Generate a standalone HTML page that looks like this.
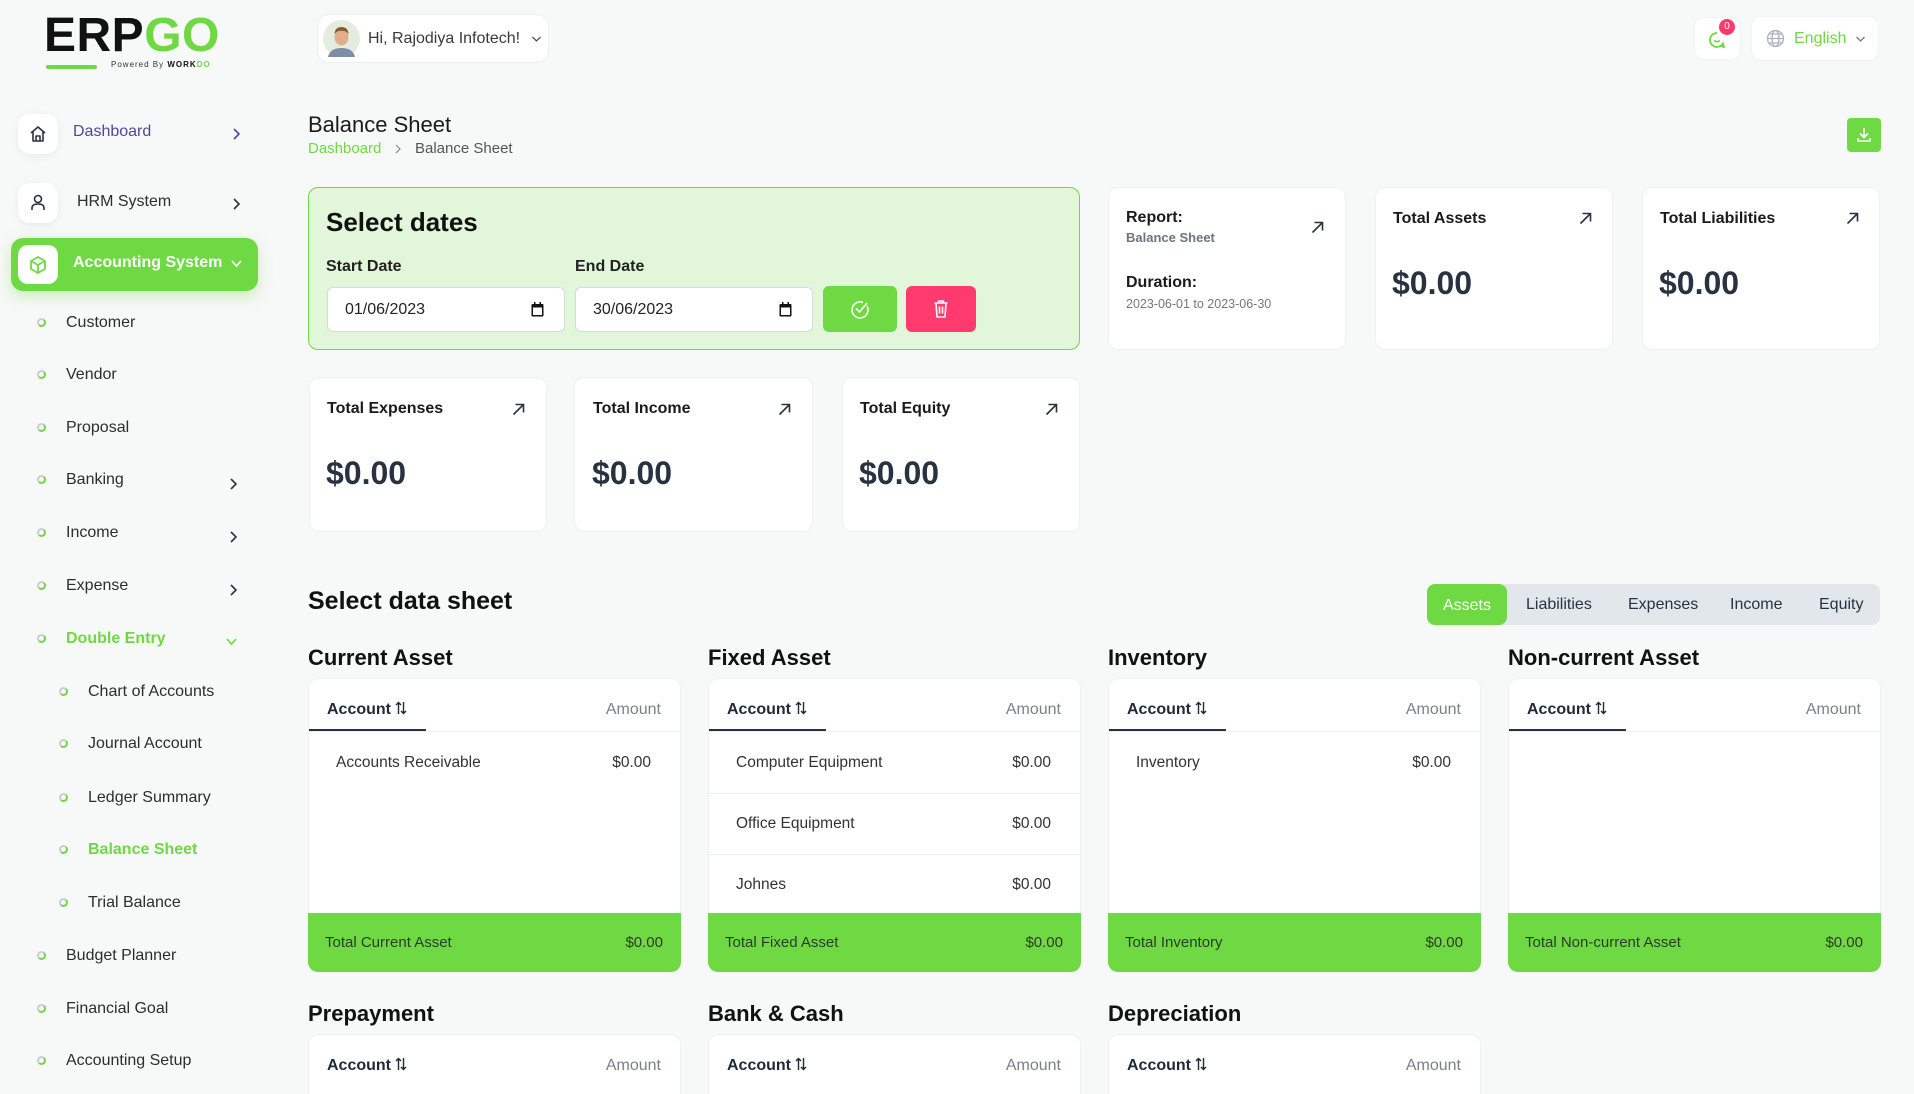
<!DOCTYPE html>
<html><head><meta charset="utf-8"><style>
*{box-sizing:border-box}
body{margin:0;width:1914px;height:1080px;overflow:hidden;background:#f7f8f8;font-family:"Liberation Sans",sans-serif;position:relative;color:#293240}
.a{position:absolute}
.t{position:absolute;white-space:nowrap;line-height:20px;margin-top:1px}
.b{font-weight:bold}
.card{position:absolute;background:#fff;border:1px solid #eef0f2;border-radius:10px}
.dot{position:absolute;width:9px;height:9px;border:2px solid #c9ced6;border-radius:50%;border-right-color:#6fd943;border-bottom-color:#6fd943;margin-top:1px}
.side{font-size:16px;color:#2d2d2d}
.tc{position:absolute;background:#fff;border:1px solid #eef0f2;border-bottom:none;border-radius:10px 10px 0 0;width:373px}
.foot{position:absolute;background:#6fd943;border-radius:0 0 10px 10px;width:373px;height:59px}
.sec{position:absolute;font-size:22px;font-weight:bold;color:#111;white-space:nowrap;line-height:30px;margin-top:1px}
</style></head><body>

<!-- Logo -->
<div class="t b" style="left:44px;top:11px;font-size:48px;line-height:48px;color:#111;letter-spacing:0.5px">ERP<span style="color:#6fd943">GO</span></div>
<div class="a" style="left:46px;top:65px;width:51px;height:4px;border-radius:2px;background:#6fd943"></div>
<div class="t" style="left:111px;top:58px;font-size:8px;line-height:12px;letter-spacing:1px;color:#333">Powered By <b style="color:#111">WORK</b><b style="color:#6fd943">DO</b></div>

<!-- Sidebar -->
<div class="a" style="left:18px;top:114px;width:40px;height:40px;background:#fff;border-radius:12px;box-shadow:0 2px 8px rgba(0,0,0,.06)">
<svg width="40" height="40" viewBox="0 0 40 40"><path d="M13 19 L20 13 L27 19 M15 17.5 V27 H25 V17.5 M18 27 V22 H22 V27" fill="none" stroke="#293240" stroke-width="1.6" stroke-linejoin="round"/></svg></div>
<div class="t side" style="left:73px;top:121px;color:#51459d">Dashboard</div>
<svg class="a" style="left:231px;top:128px" width="12" height="12"><path d="M3 1 L8 6 L3 11" fill="none" stroke="#51459d" stroke-width="1.6"/></svg>

<div class="a" style="left:18px;top:183px;width:40px;height:40px;background:#fff;border-radius:12px;box-shadow:0 2px 8px rgba(0,0,0,.06)">
<svg width="40" height="40" viewBox="0 0 40 40"><circle cx="20" cy="16" r="3.5" fill="none" stroke="#293240" stroke-width="1.6"/><path d="M14 27 V25 Q14 21 20 21 Q26 21 26 25 V27" fill="none" stroke="#293240" stroke-width="1.6"/></svg></div>
<div class="t side" style="left:77px;top:191px">HRM System</div>
<svg class="a" style="left:231px;top:198px" width="12" height="12"><path d="M3 1 L8 6 L3 11" fill="none" stroke="#293240" stroke-width="1.6"/></svg>

<div class="a" style="left:11px;top:238px;width:247px;height:53px;background:#6fd943;border-radius:12px;box-shadow:0 5px 14px rgba(111,217,67,.35)"></div>
<div class="a" style="left:18px;top:245px;width:40px;height:39px;background:#fff;border-radius:10px">
<svg width="40" height="39" viewBox="0 0 40 39"><path d="M20 12 L27 16 V24 L20 28 L13 24 V16 Z M13 16 L20 20 L27 16 M20 20 V28" fill="none" stroke="#6fd943" stroke-width="1.8" stroke-linejoin="round"/></svg></div>
<div class="t b" style="left:73px;top:252px;font-size:16px;color:#fff">Accounting System</div>
<svg class="a" style="left:230px;top:258px" width="13" height="12"><path d="M2 3 L6.5 8 L11 3" fill="none" stroke="#fff" stroke-width="1.6"/></svg>

<div class="dot" style="left:37px;top:317px"></div><div class="t side" style="left:66px;top:312px">Customer</div>
<div class="dot" style="left:37px;top:369px"></div><div class="t side" style="left:66px;top:364px">Vendor</div>
<div class="dot" style="left:37px;top:422px"></div><div class="t side" style="left:66px;top:417px">Proposal</div>
<div class="dot" style="left:37px;top:474px"></div><div class="t side" style="left:66px;top:469px">Banking</div>
<svg class="a" style="left:228px;top:478px" width="12" height="12"><path d="M3 1 L8 6 L3 11" fill="none" stroke="#293240" stroke-width="1.6"/></svg>
<div class="dot" style="left:37px;top:527px"></div><div class="t side" style="left:66px;top:522px">Income</div>
<svg class="a" style="left:228px;top:531px" width="12" height="12"><path d="M3 1 L8 6 L3 11" fill="none" stroke="#293240" stroke-width="1.6"/></svg>
<div class="dot" style="left:37px;top:580px"></div><div class="t side" style="left:66px;top:575px">Expense</div>
<svg class="a" style="left:228px;top:584px" width="12" height="12"><path d="M3 1 L8 6 L3 11" fill="none" stroke="#293240" stroke-width="1.6"/></svg>
<div class="dot" style="left:37px;top:633px"></div><div class="t side b" style="left:66px;top:628px;color:#6fd943">Double Entry</div>
<svg class="a" style="left:225px;top:636px" width="13" height="12"><path d="M2 3 L6.5 8 L11 3" fill="none" stroke="#6fd943" stroke-width="1.6"/></svg>

<div class="dot" style="left:59px;top:686px"></div><div class="t side" style="left:88px;top:681px">Chart of Accounts</div>
<div class="dot" style="left:59px;top:738px"></div><div class="t side" style="left:88px;top:733px">Journal Account</div>
<div class="dot" style="left:59px;top:792px"></div><div class="t side" style="left:88px;top:787px">Ledger Summary</div>
<div class="dot" style="left:59px;top:844px"></div><div class="t side b" style="left:88px;top:839px;color:#6fd943">Balance Sheet</div>
<div class="dot" style="left:59px;top:897px"></div><div class="t side" style="left:88px;top:892px">Trial Balance</div>
<div class="dot" style="left:37px;top:950px"></div><div class="t side" style="left:66px;top:945px">Budget Planner</div>
<div class="dot" style="left:37px;top:1003px"></div><div class="t side" style="left:66px;top:998px">Financial Goal</div>
<div class="dot" style="left:37px;top:1055px"></div><div class="t side" style="left:66px;top:1050px">Accounting Setup</div>

<!-- Header -->
<div class="a" style="left:317px;top:14px;width:232px;height:49px;background:#fff;border:1px solid #eceff1;border-radius:12px"></div>
<svg class="a" style="left:323px;top:20px" width="37" height="37" viewBox="0 0 37 37">
<circle cx="18.5" cy="18.5" r="18.5" fill="#e4ecdf"/>
<path d="M5 37 Q7 28 18.5 28 Q30 28 32 37 Z" fill="#7b8fa6"/>
<ellipse cx="18.5" cy="17" rx="7" ry="8.5" fill="#e2ad8a"/>
<path d="M11.5 14 Q12 7 18.5 7 Q25 7 25.5 14 Q22 10 18.5 11 Q15 10 11.5 14 Z" fill="#8a5a35"/>
</svg>
<div class="t" style="left:368px;top:28px;font-size:16px;color:#3a3a3a">Hi, Rajodiya Infotech!</div>
<svg class="a" style="left:531px;top:34px" width="11" height="10"><path d="M1.5 3 L5.5 7 L9.5 3" fill="none" stroke="#555" stroke-width="1.3"/></svg>

<div class="a" style="left:1694px;top:17px;width:47px;height:43px;background:#fff;border-radius:10px;border:1px solid #f0f2f3"></div>
<svg class="a" style="left:1708px;top:31px" width="18" height="18" viewBox="0 0 18 18"><path d="M9 2 A7 7 0 1 0 15 12.5 L16 16 L12.5 15 " fill="none" stroke="#6fd943" stroke-width="1.8"/><path d="M6 9.5 Q9 12 12 9.5" fill="none" stroke="#6fd943" stroke-width="1.6"/></svg>
<div class="a" style="left:1719px;top:19px;width:16px;height:16px;border-radius:8px;background:#ff3a6e;color:#fff;font-size:10px;line-height:16px;text-align:center">0</div>

<div class="a" style="left:1751px;top:16px;width:128px;height:45px;background:#fff;border-radius:10px;border:1px solid #f0f2f3"></div>
<svg class="a" style="left:1766px;top:29px" width="19" height="19" viewBox="0 0 19 19"><g fill="none" stroke="#aab2bb" stroke-width="1.3"><circle cx="9.5" cy="9.5" r="8"/><ellipse cx="9.5" cy="9.5" rx="3.5" ry="8"/><path d="M1.5 9.5 H17.5 M3 5 H16 M3 14 H16"/></g></svg>
<div class="t" style="left:1794px;top:28px;font-size:16px;color:#6fd943">English</div>
<svg class="a" style="left:1855px;top:34px" width="11" height="10"><path d="M1.5 3 L5.5 7 L9.5 3" fill="none" stroke="#777" stroke-width="1.3"/></svg>

<!-- Title -->
<div class="t" style="left:308px;top:110px;font-size:22px;line-height:28px;color:#1a1a1a">Balance Sheet</div>
<div class="t" style="left:308px;top:138px;font-size:15px;color:#6fd943">Dashboard</div>
<svg class="a" style="left:393px;top:143px" width="10" height="12"><path d="M3 2 L7 6 L3 10" fill="none" stroke="#888" stroke-width="1.2"/></svg>
<div class="t" style="left:415px;top:138px;font-size:15px;color:#555">Balance Sheet</div>

<div class="a" style="left:1847px;top:118px;width:34px;height:34px;background:#6fd943;border-radius:4px">
<svg width="34" height="34" viewBox="0 0 34 34"><path d="M17 10 V19 M13 15.5 L17 19.5 L21 15.5 M11 20 V23 H23 V20" fill="none" stroke="#fff" stroke-width="1.6"/></svg></div>

<!-- Select dates -->
<div class="a" style="left:308px;top:187px;width:772px;height:163px;background:#e2f6da;border:1.5px solid #6fd943;border-radius:10px"></div>
<div class="t b" style="left:326px;top:205px;font-size:26px;line-height:32px;color:#111">Select dates</div>
<div class="t b" style="left:326px;top:256px;font-size:16px;color:#222">Start Date</div>
<div class="t b" style="left:575px;top:256px;font-size:16px;color:#222">End Date</div>
<div class="a" style="left:327px;top:287px;width:238px;height:45px;background:#fff;border:1px solid #d6dadf;border-radius:6px"></div>
<div class="t" style="left:345px;top:299px;font-size:16px;color:#222">01/06/2023</div>
<svg class="a" style="left:531px;top:302px" width="13" height="15" viewBox="0 0 13 15"><rect x="0.5" y="2" width="12" height="12.5" rx="1" fill="#111"/><rect x="2" y="5.5" width="9" height="7.5" fill="#fff"/><rect x="3" y="0" width="1.5" height="3" fill="#111"/><rect x="8.5" y="0" width="1.5" height="3" fill="#111"/></svg>
<div class="a" style="left:575px;top:287px;width:238px;height:45px;background:#fff;border:1px solid #d6dadf;border-radius:6px"></div>
<div class="t" style="left:593px;top:299px;font-size:16px;color:#222">30/06/2023</div>
<svg class="a" style="left:779px;top:302px" width="13" height="15" viewBox="0 0 13 15"><rect x="0.5" y="2" width="12" height="12.5" rx="1" fill="#111"/><rect x="2" y="5.5" width="9" height="7.5" fill="#fff"/><rect x="3" y="0" width="1.5" height="3" fill="#111"/><rect x="8.5" y="0" width="1.5" height="3" fill="#111"/></svg>
<div class="a" style="left:823px;top:286px;width:74px;height:46px;background:#6fd943;border-radius:6px">
<svg width="74" height="46" viewBox="0 0 74 46"><path d="M44 20 A8 8 0 1 1 40 16.5" fill="none" stroke="#fff" stroke-width="1.6"/><path d="M33 22.5 L36.5 26 L44 17" fill="none" stroke="#fff" stroke-width="1.6"/></svg></div>
<div class="a" style="left:906px;top:286px;width:70px;height:46px;background:#ff3a6e;border-radius:6px">
<svg width="70" height="46" viewBox="0 0 70 46"><path d="M28.5 17 H41.5 M32.5 17 V15 H37.5 V17 M30 17 L31 31 H39 L40 17 M33.5 20.5 V27.5 M36.5 20.5 V27.5" fill="none" stroke="#fff" stroke-width="1.6" stroke-linejoin="round"/></svg></div>

<!-- Top right cards -->
<div class="card" style="left:1108px;top:187px;width:238px;height:163px"></div>
<div class="t b" style="left:1126px;top:207px;font-size:16px;color:#1a1a1a">Report:</div>
<div class="t b" style="left:1126px;top:227px;font-size:13px;color:#6c757d">Balance Sheet</div>
<div class="t b" style="left:1126px;top:272px;font-size:16px;color:#1a1a1a">Duration:</div>
<div class="t" style="left:1126px;top:293px;font-size:12.5px;color:#777">2023-06-01 to 2023-06-30</div>
<svg class="a" style="left:1311px;top:221px" width="13" height="13"><path d="M1.5 11.5 L11 2 M3.5 1.5 H11.5 V9.5" fill="none" stroke="#293240" stroke-width="1.6"/></svg>

<div class="card" style="left:1375px;top:187px;width:238px;height:163px"></div>
<div class="t b" style="left:1393px;top:208px;font-size:16px;color:#1a1a1a">Total Assets</div>
<svg class="a" style="left:1579px;top:212px" width="13" height="13"><path d="M1.5 11.5 L11 2 M3.5 1.5 H11.5 V9.5" fill="none" stroke="#293240" stroke-width="1.6"/></svg>
<div class="t b" style="left:1392px;top:262px;font-size:32px;line-height:40px;color:#293240">$0.00</div>

<div class="card" style="left:1642px;top:187px;width:238px;height:163px"></div>
<div class="t b" style="left:1660px;top:208px;font-size:16px;color:#1a1a1a">Total Liabilities</div>
<svg class="a" style="left:1846px;top:212px" width="13" height="13"><path d="M1.5 11.5 L11 2 M3.5 1.5 H11.5 V9.5" fill="none" stroke="#293240" stroke-width="1.6"/></svg>
<div class="t b" style="left:1659px;top:262px;font-size:32px;line-height:40px;color:#293240">$0.00</div>

<!-- Row 2 cards -->
<div class="card" style="left:309px;top:377px;width:238px;height:155px"></div>
<div class="t b" style="left:327px;top:398px;font-size:16px;color:#1a1a1a">Total Expenses</div>
<svg class="a" style="left:512px;top:403px" width="13" height="13"><path d="M1.5 11.5 L11 2 M3.5 1.5 H11.5 V9.5" fill="none" stroke="#293240" stroke-width="1.6"/></svg>
<div class="t b" style="left:326px;top:452px;font-size:32px;line-height:40px;color:#293240">$0.00</div>

<div class="card" style="left:574px;top:377px;width:239px;height:155px"></div>
<div class="t b" style="left:593px;top:398px;font-size:16px;color:#1a1a1a">Total Income</div>
<svg class="a" style="left:778px;top:403px" width="13" height="13"><path d="M1.5 11.5 L11 2 M3.5 1.5 H11.5 V9.5" fill="none" stroke="#293240" stroke-width="1.6"/></svg>
<div class="t b" style="left:592px;top:452px;font-size:32px;line-height:40px;color:#293240">$0.00</div>

<div class="card" style="left:842px;top:377px;width:238px;height:155px"></div>
<div class="t b" style="left:860px;top:398px;font-size:16px;color:#1a1a1a">Total Equity</div>
<svg class="a" style="left:1045px;top:403px" width="13" height="13"><path d="M1.5 11.5 L11 2 M3.5 1.5 H11.5 V9.5" fill="none" stroke="#293240" stroke-width="1.6"/></svg>
<div class="t b" style="left:859px;top:452px;font-size:32px;line-height:40px;color:#293240">$0.00</div>

<!-- Select data sheet -->
<div class="t b" style="left:308px;top:585px;font-size:25px;line-height:30px;color:#111">Select data sheet</div>
<div class="a" style="left:1427px;top:584px;width:453px;height:41px;background:#e1e7eb;border-radius:8px"></div>
<div class="a" style="left:1427px;top:584px;width:80px;height:41px;background:#6fd943;border-radius:8px;color:#fff;font-size:16px;line-height:43px;text-align:center">Assets</div>
<div class="t" style="left:1526px;top:594px;font-size:16px;color:#293240">Liabilities</div>
<div class="t" style="left:1628px;top:594px;font-size:16px;color:#293240">Expenses</div>
<div class="t" style="left:1730px;top:594px;font-size:16px;color:#293240">Income</div>
<div class="t" style="left:1819px;top:594px;font-size:16px;color:#293240">Equity</div>

<!-- Tables row 1 -->
<!-- Current Asset -->
<div class="sec" style="left:308px;top:642px">Current Asset</div>
<div class="tc" style="left:308px;top:678px;height:235px">
  <div class="t b" style="left:18px;top:20px;font-size:16px;color:#1e2a36">Account <svg width="12" height="14" viewBox="0 0 12 14" style="vertical-align:-1px"><path d="M3.5 13 V1.5 M1 4 L3.5 1.5 L6 4 M8.5 1 V12.5 M6 10 L8.5 12.5 L11 10" fill="none" stroke="#1e2a36" stroke-width="1.4"/></svg></div>
  <div class="t" style="right:19px;top:20px;font-size:16px;color:#7a828a">Amount</div>
  <div class="a" style="left:0;top:50px;width:117px;height:2px;background:#293240"></div>
  <div class="a" style="left:0;top:52px;width:371px;height:1px;background:#eceff1"></div>
  <div class="t" style="left:27px;top:73px;font-size:15.5px;color:#333">Accounts Receivable</div>
  <div class="t" style="right:29px;top:73px;font-size:15.5px;color:#333">$0.00</div>
</div>
<div class="foot" style="left:308px;top:913px"><div class="t" style="left:17px;top:19px;font-size:15px;color:#2d3a2a">Total Current Asset</div><div class="t" style="right:18px;top:19px;font-size:15px;color:#2d3a2a">$0.00</div></div>

<!-- Fixed Asset -->
<div class="sec" style="left:708px;top:642px">Fixed Asset</div>
<div class="tc" style="left:708px;top:678px;height:235px">
  <div class="t b" style="left:18px;top:20px;font-size:16px;color:#1e2a36">Account <svg width="12" height="14" viewBox="0 0 12 14" style="vertical-align:-1px"><path d="M3.5 13 V1.5 M1 4 L3.5 1.5 L6 4 M8.5 1 V12.5 M6 10 L8.5 12.5 L11 10" fill="none" stroke="#1e2a36" stroke-width="1.4"/></svg></div>
  <div class="t" style="right:19px;top:20px;font-size:16px;color:#7a828a">Amount</div>
  <div class="a" style="left:0;top:50px;width:117px;height:2px;background:#293240"></div>
  <div class="a" style="left:0;top:52px;width:371px;height:1px;background:#eceff1"></div>
  <div class="t" style="left:27px;top:73px;font-size:15.5px;color:#333">Computer Equipment</div>
  <div class="t" style="right:29px;top:73px;font-size:15.5px;color:#333">$0.00</div>
  <div class="a" style="left:0;top:114px;width:371px;height:1px;background:#eceff1"></div>
  <div class="t" style="left:27px;top:134px;font-size:15.5px;color:#333">Office Equipment</div>
  <div class="t" style="right:29px;top:134px;font-size:15.5px;color:#333">$0.00</div>
  <div class="a" style="left:0;top:175px;width:371px;height:1px;background:#eceff1"></div>
  <div class="t" style="left:27px;top:195px;font-size:15.5px;color:#333">Johnes</div>
  <div class="t" style="right:29px;top:195px;font-size:15.5px;color:#333">$0.00</div>
</div>
<div class="foot" style="left:708px;top:913px"><div class="t" style="left:17px;top:19px;font-size:15px;color:#2d3a2a">Total Fixed Asset</div><div class="t" style="right:18px;top:19px;font-size:15px;color:#2d3a2a">$0.00</div></div>

<!-- Inventory -->
<div class="sec" style="left:1108px;top:642px">Inventory</div>
<div class="tc" style="left:1108px;top:678px;height:235px">
  <div class="t b" style="left:18px;top:20px;font-size:16px;color:#1e2a36">Account <svg width="12" height="14" viewBox="0 0 12 14" style="vertical-align:-1px"><path d="M3.5 13 V1.5 M1 4 L3.5 1.5 L6 4 M8.5 1 V12.5 M6 10 L8.5 12.5 L11 10" fill="none" stroke="#1e2a36" stroke-width="1.4"/></svg></div>
  <div class="t" style="right:19px;top:20px;font-size:16px;color:#7a828a">Amount</div>
  <div class="a" style="left:0;top:50px;width:117px;height:2px;background:#293240"></div>
  <div class="a" style="left:0;top:52px;width:371px;height:1px;background:#eceff1"></div>
  <div class="t" style="left:27px;top:73px;font-size:15.5px;color:#333">Inventory</div>
  <div class="t" style="right:29px;top:73px;font-size:15.5px;color:#333">$0.00</div>
</div>
<div class="foot" style="left:1108px;top:913px"><div class="t" style="left:17px;top:19px;font-size:15px;color:#2d3a2a">Total Inventory</div><div class="t" style="right:18px;top:19px;font-size:15px;color:#2d3a2a">$0.00</div></div>

<!-- Non-current Asset -->
<div class="sec" style="left:1508px;top:642px">Non-current Asset</div>
<div class="tc" style="left:1508px;top:678px;height:235px">
  <div class="t b" style="left:18px;top:20px;font-size:16px;color:#1e2a36">Account <svg width="12" height="14" viewBox="0 0 12 14" style="vertical-align:-1px"><path d="M3.5 13 V1.5 M1 4 L3.5 1.5 L6 4 M8.5 1 V12.5 M6 10 L8.5 12.5 L11 10" fill="none" stroke="#1e2a36" stroke-width="1.4"/></svg></div>
  <div class="t" style="right:19px;top:20px;font-size:16px;color:#7a828a">Amount</div>
  <div class="a" style="left:0;top:50px;width:117px;height:2px;background:#293240"></div>
  <div class="a" style="left:0;top:52px;width:371px;height:1px;background:#eceff1;box-shadow:0 2px 4px rgba(0,0,0,.04)"></div>
</div>
<div class="foot" style="left:1508px;top:913px"><div class="t" style="left:17px;top:19px;font-size:15px;color:#2d3a2a">Total Non-current Asset</div><div class="t" style="right:18px;top:19px;font-size:15px;color:#2d3a2a">$0.00</div></div>

<!-- Row 2 tables -->
<div class="sec" style="left:308px;top:998px">Prepayment</div>
<div class="tc" style="left:308px;top:1034px;height:60px">
  <div class="t b" style="left:18px;top:20px;font-size:16px;color:#1e2a36">Account <svg width="12" height="14" viewBox="0 0 12 14" style="vertical-align:-1px"><path d="M3.5 13 V1.5 M1 4 L3.5 1.5 L6 4 M8.5 1 V12.5 M6 10 L8.5 12.5 L11 10" fill="none" stroke="#1e2a36" stroke-width="1.4"/></svg></div>
  <div class="t" style="right:19px;top:20px;font-size:16px;color:#7a828a">Amount</div>
</div>
<div class="sec" style="left:708px;top:998px">Bank &amp; Cash</div>
<div class="tc" style="left:708px;top:1034px;height:60px">
  <div class="t b" style="left:18px;top:20px;font-size:16px;color:#1e2a36">Account <svg width="12" height="14" viewBox="0 0 12 14" style="vertical-align:-1px"><path d="M3.5 13 V1.5 M1 4 L3.5 1.5 L6 4 M8.5 1 V12.5 M6 10 L8.5 12.5 L11 10" fill="none" stroke="#1e2a36" stroke-width="1.4"/></svg></div>
  <div class="t" style="right:19px;top:20px;font-size:16px;color:#7a828a">Amount</div>
</div>
<div class="sec" style="left:1108px;top:998px">Depreciation</div>
<div class="tc" style="left:1108px;top:1034px;height:60px">
  <div class="t b" style="left:18px;top:20px;font-size:16px;color:#1e2a36">Account <svg width="12" height="14" viewBox="0 0 12 14" style="vertical-align:-1px"><path d="M3.5 13 V1.5 M1 4 L3.5 1.5 L6 4 M8.5 1 V12.5 M6 10 L8.5 12.5 L11 10" fill="none" stroke="#1e2a36" stroke-width="1.4"/></svg></div>
  <div class="t" style="right:19px;top:20px;font-size:16px;color:#7a828a">Amount</div>
</div>

</body></html>
